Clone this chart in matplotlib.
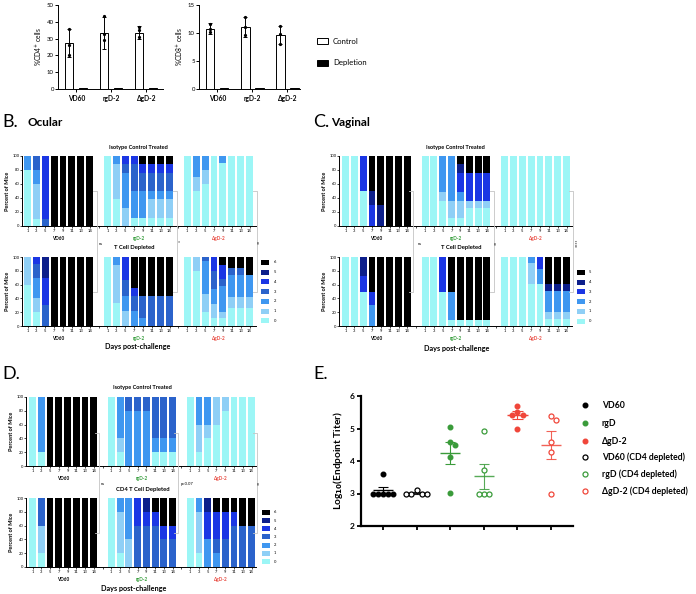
import numpy as np
import matplotlib
matplotlib.use('Agg')
import matplotlib.pyplot as plt
from matplotlib.transforms import Affine2D, blended_transform_factory
from matplotlib.patches import Rectangle
from matplotlib.lines import Line2D

FAM = ['Lato', 'DejaVu Sans']
plt.rcParams['font.family'] = FAM

# ---------------- data ----------------
groupsA = ['VD60', 'rgD-2', 'ΔgD-2']
cd4_ctrl = [27.5, 33.2, 33.5]
cd4_ctrl_err = [8.5, 9.5, 4.0]
cd4_ctrl_pts = [[36, 26, 20], [43.5, 33, 29], [37, 35, 31]]
cd4_depl = [0.3, 0.5, 0.3]
cd8_ctrl = [10.8, 11.1, 9.7]
cd8_ctrl_err = [0.9, 1.8, 1.6]
cd8_ctrl_pts = [[11.6, 10.7, 10.1], [12.9, 11.0, 9.6], [11.3, 9.9, 8.1]]
cd8_depl = [0.1, 0.15, 0.2]

days = ['1', '3', '5', '7', '9', '11', '13', '14']
vaccines = ['VD60', 'rgD-2', 'ΔgD-2']
scores7 = ['0', '1', '2', '3', '4', '5', '6']
scores6 = ['0', '1', '2', '3', '4', '5']

# percent of mice at each score (score 0 first), per day, per vaccine group
ocular_iso = [
    [[80, 0, 20], [10, 50, 20, 20], [0, 0, 0, 10, 90], [0, 0, 0, 0, 0, 0, 100], [0, 0, 0, 0, 0, 0, 100],
     [0, 0, 0, 0, 0, 0, 100], [0, 0, 0, 0, 0, 0, 100], [0, 0, 0, 0, 0, 0, 100]],
    [[100], [38, 50, 12], [0, 25, 50, 13, 12], [12, 0, 38, 38, 12], [12, 0, 38, 25, 13, 0, 12],
     [12, 26, 12, 25, 13, 0, 12], [12, 26, 12, 25, 13, 0, 12], [12, 26, 12, 25, 13, 0, 12]],
    [[100], [50, 20, 30], [60, 20, 20], [100], [90, 0, 10], [100], [100], [100]],
]
ocular_dep = [
    [[60, 40], [20, 20, 30, 20, 10], [0, 0, 0, 30, 40, 30], [0, 0, 0, 0, 0, 0, 100], [0, 0, 0, 0, 0, 0, 100],
     [0, 0, 0, 0, 0, 0, 100], [0, 0, 0, 0, 0, 0, 100], [0, 0, 0, 0, 0, 0, 100]],
    [[100], [33, 56, 11], [0, 22, 22, 22, 34], [0, 0, 22, 22, 11, 0, 45], [0, 0, 11, 33, 0, 0, 56],
     [0, 0, 0, 44, 0, 0, 56], [0, 0, 0, 44, 0, 0, 56], [0, 0, 0, 44, 0, 0, 56]],
    [[100], [79, 21], [21, 26, 47, 6], [11, 21, 21, 26, 21], [11, 10, 37, 10, 21, 0, 11],
     [26, 16, 32, 10, 0, 0, 16], [26, 16, 32, 10, 0, 0, 16], [26, 16, 32, 0, 0, 0, 26]],
]
vaginal_iso = [
    [[100], [100], [50, 0, 0, 50], [0, 0, 0, 30, 20, 50], [0, 0, 0, 0, 30, 70],
     [0, 0, 0, 0, 0, 100], [0, 0, 0, 0, 0, 100], [0, 0, 0, 0, 0, 100]],
    [[100], [100], [35, 13, 52], [12, 23, 65], [12, 23, 13, 27, 13, 12],
     [25, 11, 0, 39, 0, 25], [25, 11, 0, 39, 0, 25], [25, 11, 0, 39, 0, 25]],
    [[100], [100], [100], [100], [100], [100], [100], [100]],
]
vaginal_dep = [
    [[100], [100], [50, 0, 0, 22, 28], [0, 0, 31, 19, 0, 50], [0, 0, 0, 0, 0, 100],
     [0, 0, 0, 0, 0, 100], [0, 0, 0, 0, 0, 100], [0, 0, 0, 0, 0, 100]],
    [[100], [100], [50, 0, 0, 50], [8, 0, 42, 0, 0, 50], [8, 0, 0, 0, 0, 92],
     [8, 0, 0, 0, 0, 92], [8, 0, 0, 0, 0, 92], [8, 0, 0, 0, 0, 92]],
    [[100], [100], [100], [61, 30, 9], [61, 0, 21, 18],
     [10, 11, 30, 0, 10, 39], [10, 11, 30, 0, 10, 39], [10, 11, 30, 0, 10, 39]],
]
cd4_iso = [
    [[100], [20, 0, 80], [0, 0, 0, 0, 0, 0, 100], [0, 0, 0, 0, 0, 0, 100], [0, 0, 0, 0, 0, 0, 100],
     [0, 0, 0, 0, 0, 0, 100], [0, 0, 0, 0, 0, 0, 100], [0, 0, 0, 0, 0, 0, 100]],
    [[100], [20, 20, 60], [0, 0, 80, 20], [0, 0, 80, 20], [0, 0, 80, 20],
     [20, 0, 20, 60], [20, 0, 20, 60], [20, 0, 20, 60]],
    [[100], [20, 40, 40], [40, 20, 40], [60, 40], [80, 20], [100], [100], [100]],
]
cd4_dep = [
    [[100], [20, 40, 0, 40], [0, 0, 0, 0, 0, 0, 100], [0, 0, 0, 0, 0, 0, 100], [0, 0, 0, 0, 0, 0, 100],
     [0, 0, 0, 0, 0, 0, 100], [0, 0, 0, 0, 0, 0, 100], [0, 0, 0, 0, 0, 0, 100]],
    [[100], [20, 60, 20], [0, 40, 60], [0, 0, 0, 60, 40], [0, 0, 0, 60, 20, 20],
     [0, 0, 0, 60, 20, 0, 20], [0, 0, 0, 40, 20, 0, 40], [0, 0, 0, 40, 20, 0, 40]],
    [[100], [20, 60, 20], [0, 0, 40, 0, 40, 20], [0, 0, 20, 20, 40, 0, 20], [0, 0, 0, 40, 40, 0, 20],
     [0, 0, 0, 60, 20, 0, 20], [0, 0, 0, 60, 0, 0, 40], [0, 0, 0, 60, 0, 0, 40]],
]

# panel E: log10 endpoint titers
E_labels = ['VD60', 'VD60 (CD4 depleted)', 'rgD', 'rgD (CD4 depleted)', 'ΔgD-2', 'ΔgD-2 (CD4 depleted)']
E_vd60 = [3.6, 3.0, 3.0, 3.0, 3.0, 3.0]
E_vd60_dep = [3.1, 3.0, 3.0, 3.0, 3.0]
E_rgd = [5.05, 4.57, 4.5, 4.13, 3.02]
E_rgd_dep = [4.93, 3.72, 3.0, 3.0, 3.0]
E_dgd = [5.70, 5.50, 5.43, 5.43, 4.97]
E_dgd_dep = [5.38, 5.26, 4.58, 4.27, 3.0]

# ---------------- styling ----------------
col7 = ['#9cf6f6', '#8fcff6', '#3f97f0', '#2b63cb', '#1b36e4', '#0d1f8b', '#000000']
col6 = ['#9cf6f6', '#8fcff6', '#3f97f0', '#1b36e4', '#0d1f8b', '#000000']
grp_colors = ['#000000', '#2f9a35', '#e8463c']
GREEN = '#3a9b3a'
RED = '#f0463a'
BR = '#c4c4c4'

W, H = 696, 594
fig = plt.figure(figsize=(W / 100, H / 100), dpi=100)
PX = Affine2D().scale(1.0 / W, -1.0 / H).translate(0, 1) + fig.transFigure


def add_ax(l, t, r, b):
    return fig.add_axes([l / W, 1 - b / H, (r - l) / W, (b - t) / H])


def ftext(x, y, s, **kw):
    kw.setdefault('ha', 'center')
    kw.setdefault('va', 'center')
    fig.text(x, y, s, transform=PX, **kw)


def fline(xs, ys, color=BR, lw=0.6):
    fig.add_artist(Line2D(xs, ys, transform=PX, color=color, lw=lw))


def style_axes(ax, lw=0.7):
    for s in ['top', 'right']:
        ax.spines[s].set_visible(False)
    for s in ['left', 'bottom']:
        ax.spines[s].set_linewidth(lw)


# ---------------- panel A ----------------
def panelA(rect, ctrl, err, pts, depl, ymax, ystep, ylabel, xr):
    ax = add_ax(*rect)
    xc = np.arange(len(ctrl)) * 2.5
    ax.bar(xc, ctrl, width=0.6, color='white', edgecolor='black', lw=0.7, zorder=2)
    ax.errorbar(xc, ctrl, yerr=err, fmt='none', ecolor='black', elinewidth=0.7,
                capsize=1.6, capthick=0.7, zorder=3)
    for i, p in enumerate(pts):
        ax.plot([xc[i]] * len(p), p, 'o', ms=1.3, color='black', zorder=4)
    ax.bar(xc + 1, depl, width=0.6, color='black', edgecolor='black', lw=0.7, zorder=2)
    ax.set_xlim(-0.8, xr)
    ax.set_ylim(0, ymax)
    ax.set_yticks(np.arange(0, ymax + 0.1, ystep))
    ax.set_xticks(xc + 0.5, groupsA)
    style_axes(ax)
    ax.tick_params(axis='y', labelsize=4.3, length=2, width=0.7, pad=1)
    ax.tick_params(axis='x', labelsize=4.8, length=2, width=0.7, pad=2)
    for t in ax.get_xticklabels():
        t.set_fontweight('bold')
    ax.set_ylabel(ylabel, fontsize=4.8, labelpad=2)
    return ax


panelA((58, 5, 163, 89), cd4_ctrl, cd4_ctrl_err, cd4_ctrl_pts, cd4_depl, 50, 10, r'%CD4$^{+}$ cells', 6.7)
panelA((199, 5, 300, 89), cd8_ctrl, cd8_ctrl_err, cd8_ctrl_pts, cd8_depl, 15, 5, r'%CD8$^{+}$ cells', 6.4)

fig.add_artist(Rectangle((317, 38), 11, 6, transform=PX, facecolor='white', edgecolor='black', lw=0.7))
fig.add_artist(Rectangle((317, 59.5), 11, 6, transform=PX, facecolor='black', edgecolor='black', lw=0.7))
ftext(333, 41, 'Control', ha='left', fontsize=5.6)
ftext(333, 62.5, 'Depletion', ha='left', fontsize=5.6)

# ---------------- stacked bar rows ----------------
def bar_row(rect, first_c, last_c, data, colors):
    l, t, r, b = rect
    ax = add_ax(*rect)
    n = len(colors)
    pitch = (last_c - first_c) / 25.0
    for g, grp in enumerate(data):
        for j, pct in enumerate(grp):
            vals = list(pct) + [0] * (n - len(pct))
            bottom = 0
            for s in range(n):
                if vals[s] > 0:
                    ax.bar(g * 9 + j, vals[s], bottom=bottom, width=0.78, color=colors[s], lw=0)
                    bottom += vals[s]
    ax.set_xlim(-(first_c - l) / pitch, (r - first_c) / pitch)
    ax.set_ylim(0, 100)
    pos = [g * 9 + j for g in range(3) for j in range(8)]
    ax.set_xticks(pos, days * 3)
    ax.set_xticks([8, 17], minor=True)
    ax.set_yticks([0, 20, 40, 60, 80, 100])
    style_axes(ax, 0.7)
    ax.tick_params(axis='both', which='both', labelsize=3, length=1.3, width=0.5, pad=0.6)
    ax.set_ylabel('Percent of Mice', fontsize=4, fontweight='bold', labelpad=1.5)
    tr = blended_transform_factory(ax.transData, PX)
    for g in range(3):
        ax.text(g * 9 + 3.5, b + 12.5, vaccines[g], transform=tr, ha='center', va='center',
                fontsize=3.3, fontweight='bold', color=grp_colors[g])
    return ax


def score_legend(x, ytop, step, colors, labels, lx, bw=7.5, bh=5):
    for k in range(len(colors)):
        idx = len(colors) - 1 - k
        y = ytop + k * step
        fig.add_artist(Rectangle((x, y - bh / 2), bw, bh, transform=PX, facecolor=colors[idx], lw=0))
        ftext(lx, y, labels[idx], ha='left', fontsize=3)


def brackets(xs, ytop, ybot, stub=4):
    for x in xs:
        fline([x - stub, x, x, x - stub], [ytop, ytop, ybot, ybot])


# B ocular
ftext(2, 122, 'B.', ha='left', fontsize=13)
ftext(28, 123, 'Ocular', ha='left', fontsize=8.5, fontweight='bold')
bar_row((22, 156, 256, 226), 27.5, 249.5, ocular_iso, col7)
bar_row((22, 257, 256, 326), 27.5, 249.5, ocular_dep, col7)
ftext(138, 147, 'Isotype Control Treated', fontsize=4, fontweight='bold')
ftext(134, 248, 'T Cell Depleted', fontsize=4.2, fontweight='bold')
ftext(138, 347, 'Days post-challenge', fontsize=5.2, fontweight='bold')
score_legend(261, 262.3, 9.78, col7, scores7, 274)
brackets([96.5, 176.5, 256.5], 191, 292)
ftext(101, 244, 'ns', fontsize=3)
ftext(179, 243, '*', fontsize=3.5)
ftext(259, 242, '**', fontsize=3.5, rotation=90)

# C vaginal
ftext(313, 122, 'C.', ha='left', fontsize=13)
ftext(331, 123, 'Vaginal', ha='left', fontsize=8.5, fontweight='bold')
bar_row((339, 156, 572, 226), 345.5, 566.5, vaginal_iso, col6)
bar_row((339, 257, 572, 326), 345.5, 566.5, vaginal_dep, col6)
ftext(455, 147, 'Isotype Control Treated', fontsize=4, fontweight='bold')
ftext(461, 248, 'T Cell Depleted', fontsize=4.2, fontweight='bold')
ftext(457, 348, 'Days post-challenge', fontsize=5.2, fontweight='bold')
score_legend(577, 272.3, 9.75, col6, scores6, 589)
brackets([413, 494, 573], 191, 292)
ftext(419.5, 244, 'ns', fontsize=3)
ftext(496, 243, '**', fontsize=3.5, rotation=90)
ftext(577, 243, '****', fontsize=3.5, rotation=90)

# D CD4 depletion
ftext(2, 374, 'D.', ha='left', fontsize=13)
bar_row((26, 397, 256, 466), 32.5, 251.5, cd4_iso, col7)
bar_row((26, 498, 256, 567), 32.5, 251.5, cd4_dep, col7)
ftext(142, 387, 'Isotype Control Treated', fontsize=4, fontweight='bold')
ftext(143, 489, 'CD4 T Cell Depleted', fontsize=4.2, fontweight='bold')
ftext(134, 588, 'Days post-challenge', fontsize=5.2, fontweight='bold')
score_legend(262, 512.3, 8.23, col7, scores7, 274)
brackets([99, 178, 257], 433, 533)
ftext(102.5, 484, 'ns', fontsize=3)
ftext(187.5, 484, 'p=0.07', fontsize=3)
ftext(259.5, 483, '**', fontsize=3.5, rotation=90)

# ---------------- panel E ----------------
ftext(313, 374, 'E.', ha='left', fontsize=13)
axE = add_ax(361, 396, 573, 526)
E_sets = [E_vd60, E_vd60_dep, E_rgd, E_rgd_dep, E_dgd, E_dgd_dep]
E_cols = ['black', 'black', GREEN, GREEN, RED, RED]
E_open = [False, True, False, True, False, True]


def swarm(vals, dx=0.15, dy=0.15):
    vals = np.asarray(vals, float)
    order = np.argsort(-vals, kind='stable')
    placed = []
    offs = np.zeros(len(vals))
    cands = [0.0]
    for m in range(1, 10):
        cands += [m * dx, -m * dx]
    for i in order:
        for c in cands:
            if all(abs(c - o) >= dx * 0.99 or abs(vals[i] - v) >= dy for o, v in placed):
                offs[i] = c
                break
        placed.append((offs[i], vals[i]))
    return offs


for k, (vals, c, op) in enumerate(zip(E_sets, E_cols, E_open)):
    x = k + 1
    v = np.asarray(vals, float)
    offs = swarm(v)
    if op:
        axE.plot(x + offs, v, 'o', ms=3.6, mfc='white', mec=c, mew=0.9, ls='none', zorder=3)
    else:
        axE.plot(x + offs, v, 'o', ms=3.3, color=c, ls='none', zorder=3)
    m = v.mean()
    se = v.std(ddof=1) / np.sqrt(len(v))
    a = 0.85 if op else 1.0
    axE.hlines(m, x - 0.3, x + 0.3, color=c, lw=1.0, alpha=a, zorder=2)
    axE.vlines(x, m - se, m + se, color=c, lw=0.8, alpha=a, zorder=2)
    axE.hlines([m - se, m + se], x - 0.15, x + 0.15, color=c, lw=0.8, alpha=a, zorder=2)

axE.set_xlim(0.35, 6.65)
axE.set_ylim(2, 6)
axE.set_yticks([2, 3, 4, 5, 6])
axE.set_xticks([1, 2, 3, 4, 5, 6], [''] * 6)
style_axes(axE, 1.6)
axE.tick_params(axis='both', length=3.2, width=1.3, labelsize=6, pad=1.5)
for t in axE.get_yticklabels():
    t.set_fontweight('bold')
axE.set_ylabel(r'Log$_{\mathbf{10}}$(Endpoint Titer)', fontsize=7.3, fontweight='bold', labelpad=3)

leg_order = [0, 2, 4, 1, 3, 5]
leg_y = [405, 423, 441, 457, 474, 491]
for y, k in zip(leg_y, leg_order):
    c = E_cols[k]
    if E_open[k]:
        fig.add_artist(Line2D([585], [y], transform=PX, marker='o', ms=3.6, mfc='white', mec=c, mew=0.9, ls='none'))
    else:
        fig.add_artist(Line2D([585], [y], transform=PX, marker='o', ms=3.3, color=c, ls='none'))
    ftext(602, y, E_labels[k], ha='left', fontsize=6.2, fontweight='bold')

fig.savefig('out.png', dpi=100)
